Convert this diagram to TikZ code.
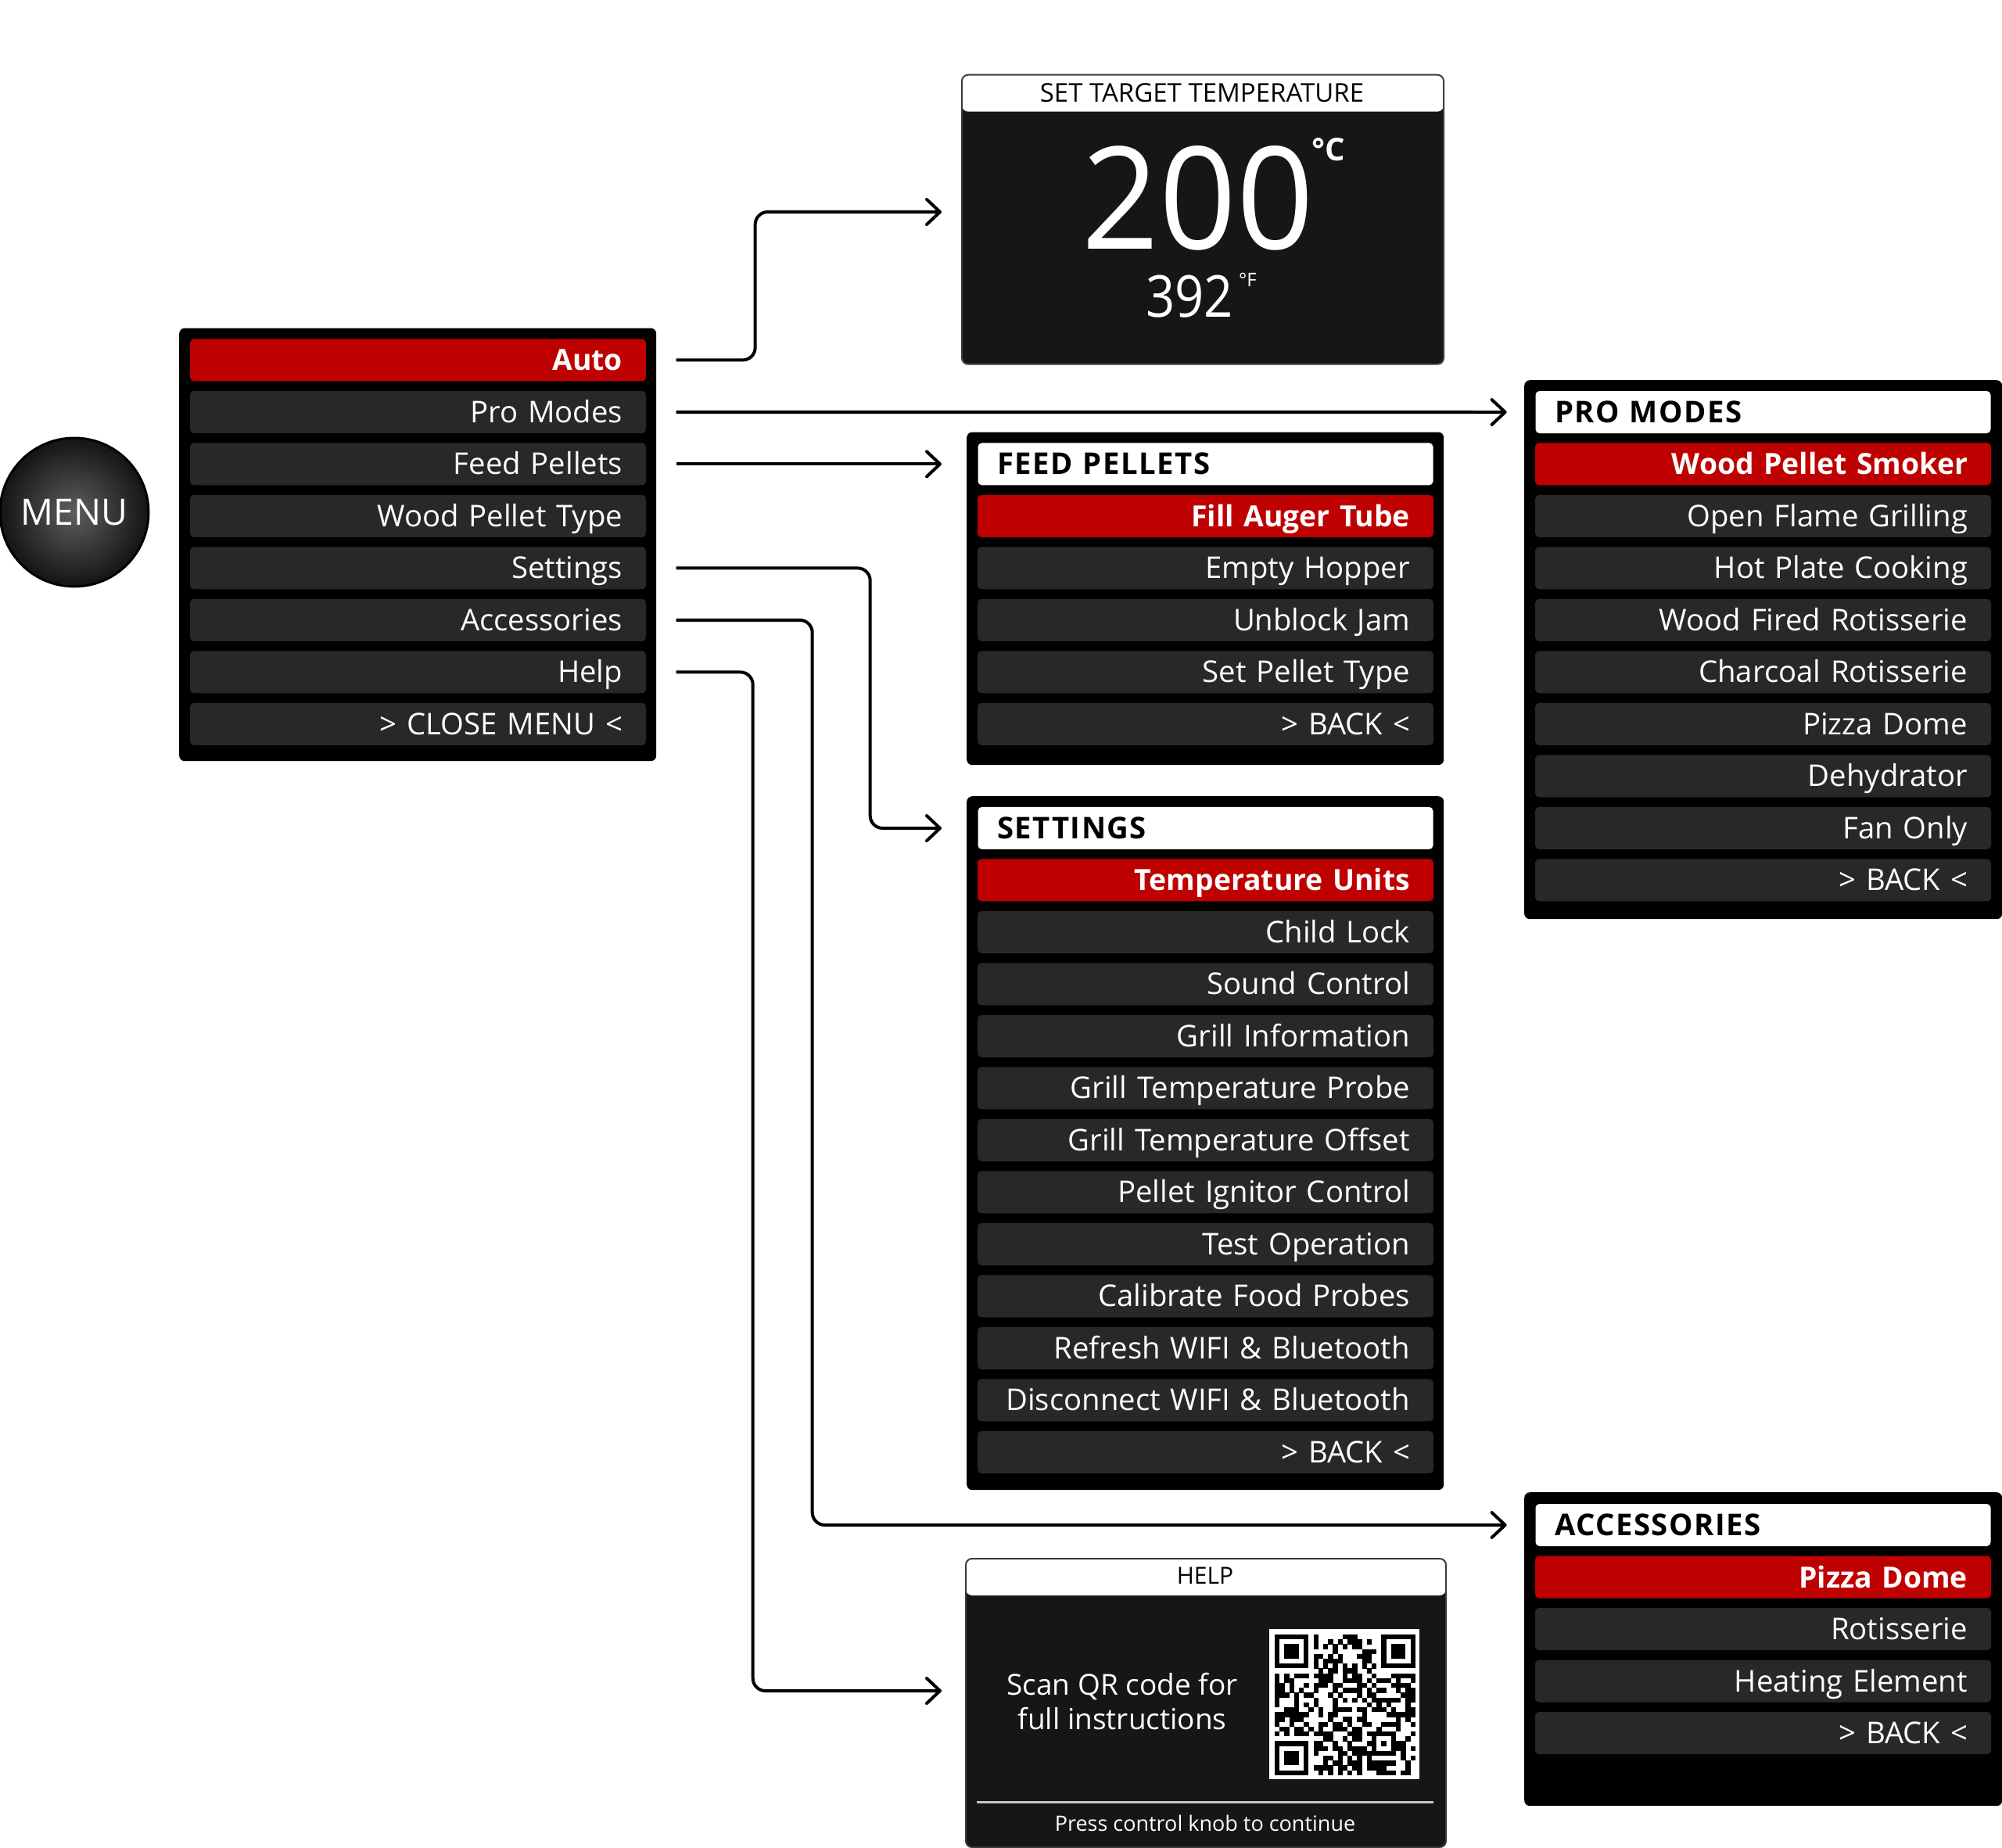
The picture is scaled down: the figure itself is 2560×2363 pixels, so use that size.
\documentclass[tikz,border=0pt]{standalone}
\usepackage{fontspec}
\usepackage{graphicx}
\setmainfont{Open Sans}
\usetikzlibrary{arrows.meta}
\definecolor{menured}{HTML}{BE0000}
\definecolor{rowgray}{HTML}{282828}
\definecolor{panelbg}{HTML}{161616}
\definecolor{paneledge}{HTML}{3C3C3C}
\definecolor{menuin}{HTML}{5E5E5E}
\definecolor{menuout}{HTML}{141414}
\newcommand\itemfont{\fontsize{38.3pt}{45pt}\selectfont}
\newcommand\itembold{\bfseries\fontsize{37.3pt}{45pt}\selectfont}
\newcommand\headbold{\bfseries\fontsize{38.3pt}{45pt}\selectfont\addfontfeature{LetterSpace=4}}
\tikzset{
  menubox/.style={fill=black, rounded corners=7pt, inner sep=0pt, anchor=north west},
  item/.style={fill=rowgray, rounded corners=5pt, text=white, font=\itemfont,
    text width=523pt, align=right, inner xsep=30pt, inner ysep=0pt,
    minimum height=54pt, text height=27pt, text depth=0pt},
  sel/.style={item, fill=menured, font=\itembold},
  head/.style={item, fill=white, text=black, font=\headbold, align=left,
    inner xsep=24.5pt, text width=533pt},
  panel/.style={fill=panelbg, draw=paneledge, line width=2pt, rounded corners=8pt,
    inner sep=0pt, anchor=north west,
    path picture={\fill[white] (path picture bounding box.north west) rectangle
      ([yshift=-47pt]path picture bounding box.north east);}},
  conn/.style={line width=4pt, rounded corners=16pt,
    -{Straight Barb[length=17pt,width=32pt,round]}},
  plain/.style={inner sep=0pt},
}
\begin{document}
\begin{tikzpicture}[x=1pt,y=-1pt]
\useasboundingbox (0,0) rectangle (2560,2363);
\fill[white] (0,0) rectangle (2560,2363);

% MENU knob
\node[circle, minimum size=190pt, inner sep=0pt, draw=black, line width=3pt,
  inner color=menuin, outer color=menuout, text=white,
  font=\fontsize{46.5pt}{50pt}\selectfont] (knob) at (95,655) {MENU};

% main menu
\node[menubox, minimum width=610pt, minimum height=553.6pt] (mainbox) at (229,419.4) {};
\node[sel] (m0) at (534.5,460.4) {Auto};
\foreach \t [count=\i] in {Pro Modes,Feed Pellets,Wood Pellet Type,Settings,Accessories,Help,> CLOSE MENU <}
  \node[item] (m\i) at (534.5,{460.4+66.5*\i}) {\t};

% set target temperature
\node[panel, minimum width=616pt, minimum height=370pt] (temp) at (1229,94.7) {};
\node[plain, font=\fontsize{33pt}{36pt}\selectfont] (temphead) at (1537,119) {SET TARGET TEMPERATURE};
\node[plain, anchor=base, text=white, font=\fontsize{182pt}{190pt}\selectfont,
  text height=131pt, text depth=0pt] (tbig) at (1532,318) {\scalebox{0.95}[1]{200}};
\node[plain, anchor=north west, text=white, font=\bfseries\fontsize{40pt}{44pt}\selectfont] (tdegc) at (1677,176) {°C};
\node[plain, anchor=base, text=white, font=\fontsize{74pt}{80pt}\selectfont,
  text height=54pt, text depth=0pt] (tsmall) at (1521,405) {\scalebox{0.88}[1]{392}};
\node[plain, anchor=north west, text=white, font=\fontsize{24pt}{28pt}\selectfont] (tdegf) at (1584,349) {°F};

% pro modes
\node[menubox, minimum width=611pt, minimum height=689pt] (probox) at (1949,486) {};
\node[head] (ph) at (2254.5,527) {PRO MODES};
\node[sel] (p2) at (2254.5,593.4) {Wood Pellet Smoker};
\foreach \t [count=\i from 3] in {Open Flame Grilling,Hot Plate Cooking,Wood Fired Rotisserie,Charcoal Rotisserie,Pizza Dome,Dehydrator,Fan Only,> BACK <}
  \node[item] (p\i) at (2254.5,{460.4+66.5*\i}) {\t};

% feed pellets
\node[menubox, minimum width=610pt, minimum height=425.6pt] (feedbox) at (1236,552.4) {};
\node[head] (fh) at (1541.5,593.4) {FEED PELLETS};
\node[sel] (f3) at (1541.5,659.9) {Fill Auger Tube};
\foreach \t [count=\i from 4] in {Empty Hopper,Unblock Jam,Set Pellet Type,> BACK <}
  \node[item] (f\i) at (1541.5,{460.4+66.5*\i}) {\t};

% settings
\node[menubox, minimum width=610pt, minimum height=887pt] (setbox) at (1236,1018) {};
\node[head] (sh) at (1541.5,1058.9) {SETTINGS};
\node[sel] (s10) at (1541.5,1125.4) {Temperature Units};
\foreach \t [count=\i from 11] in {Child Lock,Sound Control,Grill Information,Grill Temperature Probe,Grill Temperature Offset,Pellet Ignitor Control,Test Operation,Calibrate Food Probes,Refresh WIFI \& Bluetooth,Disconnect WIFI \& Bluetooth,> BACK <}
  \node[item] (s\i) at (1541.5,{460.4+66.5*\i}) {\t};

% accessories
\node[menubox, minimum width=611pt, minimum height=401pt] (accbox) at (1949,1908) {};
\node[head] (ah) at (2254.5,1950) {ACCESSORIES};
\node[sel] (a1) at (2254.5,2016.5) {Pizza Dome};
\foreach \t [count=\i from 2] in {Rotisserie,Heating Element,> BACK <}
  \node[item] (a\i) at (2254.5,{1950+66.5*\i}) {\t};

% help
\node[panel, minimum width=614pt, minimum height=369pt] (help) at (1234,1992) {};
\node[plain, font=\fontsize{30pt}{34pt}\selectfont] (helphead) at (1541,2015) {HELP};
\node[plain, anchor=base, text=white, font=\fontsize{37pt}{44pt}\selectfont] (helptext1) at (1435,2167) {Scan QR code for};
\node[plain, anchor=base, text=white, font=\fontsize{37pt}{44pt}\selectfont] (helptext2) at (1435,2211) {full instructions};
\node[plain, text=white, font=\fontsize{27pt}{30pt}\selectfont] (helpfoot) at (1541,2331) {Press control knob to continue};
\coordinate (sepl) at (1249,2304);
\coordinate (sepr) at (1833,2304);
\draw[line width=3pt, color=gray!45] (sepl) -- (sepr);
\node[fill=white, minimum size=192pt, inner sep=0pt, anchor=north west] (qr) at (1623,2083) {};
\begin{scope}[shift={(1630,2090)}, x=6.2pt, y=-6.2pt]
  \pgfmathsetseed{4242}
  \foreach \i in {0,...,28}{
    \foreach \j in {0,...,28}{
      \pgfmathtruncatemacro\qrskip{((\i<8)&&(\j<8))||((\i>20)&&(\j<8))||((\i<8)&&(\j>20))||((\i>19)&&(\i<25)&&(\j>19)&&(\j<25))}
      \pgfmathtruncatemacro\qrtime{(\i==6)||(\j==6)}
      \pgfmathtruncatemacro\qrbit{rnd<0.5}
      \ifnum\qrskip=0
        \ifnum\qrtime=1 \pgfmathtruncatemacro\qrbit{mod(\i+\j+1,2)}\fi
        \ifnum\qrbit=1 \fill[black] (\i,\j) rectangle ++(1.03,1.03);\fi
      \fi
    }
  }
  \foreach \a/\b in {0/0,22/0,0/22}{
    \fill[black] (\a,\b) rectangle ++(7,7);
    \fill[white] (\a+1,\b+1) rectangle ++(5,5);
    \fill[black] (\a+2,\b+2) rectangle ++(3,3);
  }
  \fill[black] (20,20) rectangle ++(5,5);
  \fill[white] (21,21) rectangle ++(3,3);
  \fill[black] (22,22) rectangle ++(1,1);
\end{scope}

% connector targets
\coordinate (tT) at (1204,271);
\coordinate (tP) at (1926.6,527);
\coordinate (tF) at (1204,593.4);
\coordinate (tS) at (1204,1059);
\coordinate (tA) at (1926.6,1950);
\coordinate (tH) at (1204,2162);

% connectors
\draw[conn] ([xshift=38.5pt]m0.east) -- ++(101,0) |- (tT);
\draw[conn] ([xshift=38.5pt]m1.east) -- (tP);
\draw[conn] ([xshift=38.5pt]m2.east) -- (tF);
\draw[conn] ([xshift=38.5pt]m4.east) -- ++(248,0) |- (tS);
\draw[conn] ([xshift=38.5pt]m5.east) -- ++(174,0) |- (tA);
\draw[conn] ([xshift=38.5pt]m6.east) -- ++(98,0) |- (tH);
\end{tikzpicture}
\end{document}
